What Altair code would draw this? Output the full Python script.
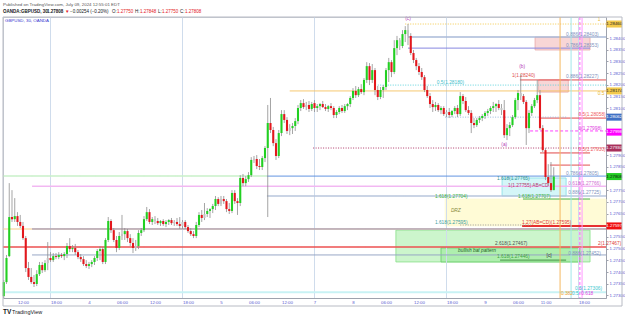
import altair as alt
import pandas as pd

# ---------------- candle data: OANDA:GBPUSD 30m, Jul 3 08:30 -> Jul 9 12:30 (EDT) ----------------
opens = [1.27297, 1.27357, 1.27468, 1.27635, 1.27626, 1.27639, 1.27614, 1.27597, 1.27545, 1.27417,
         1.27379, 1.27357, 1.27349, 1.27391, 1.27430, 1.27408, 1.27438, 1.27460, 1.27451, 1.27468,
         1.27464, 1.27473, 1.27468, 1.27477, 1.27511, 1.27498, 1.27503, 1.27485, 1.27464, 1.27455,
         1.27434, 1.27426, 1.27434, 1.27443, 1.27460, 1.27490, 1.27498, 1.27443, 1.27537, 1.27618,
         1.27579, 1.27537, 1.27503, 1.27554, 1.27562, 1.27575, 1.27545, 1.27524, 1.27503, 1.27511,
         1.27567, 1.27579, 1.27626, 1.27656, 1.27614, 1.27626, 1.27618, 1.27609, 1.27618, 1.27605,
         1.27614, 1.27622, 1.27609, 1.27614, 1.27605, 1.27597, 1.27614, 1.27592, 1.27575, 1.27562,
         1.27554, 1.27601, 1.27644, 1.27631, 1.27648, 1.27661, 1.27669, 1.27682, 1.27712, 1.27691,
         1.27712, 1.27703, 1.27669, 1.27661, 1.27738, 1.27703, 1.27695, 1.27802, 1.27780, 1.27797,
         1.27814, 1.27879, 1.27883, 1.27853, 1.27849, 1.27887, 1.27930, 1.28037, 1.28007, 1.27951,
         1.27896, 1.27994, 1.28075, 1.28050, 1.28003, 1.28015, 1.28024, 1.28045, 1.28101, 1.28122,
         1.28105, 1.28114, 1.28097, 1.28122, 1.28101, 1.28109, 1.28118, 1.28105, 1.28097, 1.28109,
         1.28101, 1.28071, 1.28084, 1.28101, 1.28088, 1.28109, 1.28118, 1.28144, 1.28174, 1.28156,
         1.28182, 1.28169, 1.28221, 1.28280, 1.28221, 1.28263, 1.28178, 1.28148, 1.28178, 1.28191,
         1.28263, 1.28297, 1.28255, 1.28357, 1.28391, 1.28366, 1.28417, 1.28434, 1.28409, 1.28336,
         1.28306, 1.28280, 1.28255, 1.28233, 1.28178, 1.28152, 1.28118, 1.28105, 1.28114, 1.28092,
         1.28101, 1.28075, 1.28084, 1.28071, 1.28088, 1.28101, 1.28075, 1.28152, 1.28131, 1.28092,
         1.28080, 1.28037, 1.28028, 1.28050, 1.28058, 1.28067, 1.28080, 1.28088, 1.28101, 1.28109,
         1.28118, 1.28101, 1.28092, 1.27985, 1.28015, 1.28028, 1.28062, 1.28135, 1.28165, 1.28152,
         1.28127, 1.28015, 1.28080, 1.28109, 1.28135, 1.28156, 1.28015, 1.27921, 1.27806, 1.27780,
         1.27750]
highs = [1.27366, 1.27473, 1.27780, 1.27750, 1.27716, 1.27656, 1.27644, 1.27614, 1.27554, 1.27443,
         1.27417, 1.27387, 1.27408, 1.27443, 1.27443, 1.27451, 1.27528, 1.27485, 1.27481, 1.27481,
         1.27485, 1.27481, 1.27485, 1.27524, 1.27545, 1.27515, 1.27520, 1.27494, 1.27477, 1.27468,
         1.27451, 1.27443, 1.27451, 1.27468, 1.27498, 1.27511, 1.27507, 1.27545, 1.27635, 1.27626,
         1.27588, 1.27554, 1.27571, 1.27644, 1.27588, 1.27584, 1.27562, 1.27545, 1.27537, 1.27579,
         1.27588, 1.27639, 1.27678, 1.27669, 1.27635, 1.27639, 1.27631, 1.27622, 1.27626, 1.27622,
         1.27626, 1.27631, 1.27622, 1.27631, 1.27635, 1.27622, 1.27622, 1.27601, 1.27588, 1.27575,
         1.27614, 1.27656, 1.27665, 1.27695, 1.27673, 1.27673, 1.27691, 1.27725, 1.27720, 1.27725,
         1.27725, 1.27712, 1.27695, 1.27750, 1.27750, 1.27716, 1.27814, 1.27819, 1.27810, 1.27827,
         1.27891, 1.27896, 1.27900, 1.27883, 1.27896, 1.27938, 1.28114, 1.28144, 1.28020, 1.27968,
         1.28007, 1.28092, 1.28092, 1.28062, 1.28032, 1.28037, 1.28058, 1.28114, 1.28135, 1.28139,
         1.28127, 1.28131, 1.28127, 1.28135, 1.28118, 1.28122, 1.28131, 1.28118, 1.28114, 1.28122,
         1.28109, 1.28092, 1.28109, 1.28114, 1.28118, 1.28122, 1.28152, 1.28186, 1.28195, 1.28191,
         1.28203, 1.28229, 1.28297, 1.28293, 1.28289, 1.28272, 1.28195, 1.28191, 1.28199, 1.28272,
         1.28315, 1.28306, 1.28391, 1.28409, 1.28400, 1.28434, 1.28451, 1.28460, 1.28421, 1.28349,
         1.28315, 1.28293, 1.28272, 1.28242, 1.28195, 1.28165, 1.28135, 1.28127, 1.28122, 1.28109,
         1.28109, 1.28092, 1.28101, 1.28092, 1.28109, 1.28114, 1.28169, 1.28161, 1.28148, 1.28109,
         1.28092, 1.28058, 1.28058, 1.28067, 1.28075, 1.28088, 1.28097, 1.28109, 1.28127, 1.28122,
         1.28135, 1.28118, 1.28135, 1.28032, 1.28041, 1.28071, 1.28144, 1.28178, 1.28246, 1.28161,
         1.28135, 1.28092, 1.28118, 1.28144, 1.28221, 1.28178, 1.28028, 1.27930, 1.27861, 1.27870,
         1.27848]
lows = [1.27289, 1.27349, 1.27464, 1.27614, 1.27614, 1.27597, 1.27588, 1.27537, 1.27400, 1.27366,
        1.27349, 1.27336, 1.27340, 1.27383, 1.27396, 1.27400, 1.27408, 1.27443, 1.27443, 1.27455,
        1.27455, 1.27460, 1.27451, 1.27460, 1.27485, 1.27485, 1.27473, 1.27455, 1.27443, 1.27426,
        1.27417, 1.27413, 1.27421, 1.27430, 1.27447, 1.27451, 1.27434, 1.27434, 1.27528, 1.27567,
        1.27528, 1.27485, 1.27494, 1.27537, 1.27537, 1.27528, 1.27511, 1.27481, 1.27490, 1.27498,
        1.27554, 1.27571, 1.27618, 1.27605, 1.27601, 1.27605, 1.27601, 1.27597, 1.27597, 1.27592,
        1.27601, 1.27601, 1.27597, 1.27597, 1.27584, 1.27584, 1.27584, 1.27567, 1.27554, 1.27545,
        1.27545, 1.27592, 1.27614, 1.27622, 1.27635, 1.27631, 1.27652, 1.27665, 1.27682, 1.27682,
        1.27691, 1.27656, 1.27648, 1.27652, 1.27691, 1.27644, 1.27682, 1.27767, 1.27767, 1.27785,
        1.27806, 1.27866, 1.27840, 1.27836, 1.27836, 1.27870, 1.27635, 1.27994, 1.27938, 1.27879,
        1.27887, 1.27981, 1.28037, 1.27990, 1.27985, 1.27990, 1.28003, 1.28032, 1.28088, 1.28097,
        1.28092, 1.28084, 1.28088, 1.28084, 1.28084, 1.28092, 1.28101, 1.28088, 1.28084, 1.28092,
        1.28058, 1.28058, 1.28075, 1.28080, 1.28080, 1.28092, 1.28105, 1.28135, 1.28144, 1.28148,
        1.28161, 1.28156, 1.28208, 1.28199, 1.28208, 1.28156, 1.28135, 1.28139, 1.28144, 1.28178,
        1.28212, 1.28233, 1.28246, 1.28327, 1.28349, 1.28357, 1.28383, 1.28370, 1.28327, 1.28293,
        1.28263, 1.28242, 1.28221, 1.28169, 1.28144, 1.28101, 1.28084, 1.28088, 1.28084, 1.28075,
        1.28067, 1.28062, 1.28058, 1.28062, 1.28075, 1.28062, 1.28067, 1.28118, 1.28084, 1.28071,
        1.27994, 1.28015, 1.28020, 1.28037, 1.28045, 1.28054, 1.28067, 1.28075, 1.28084, 1.28084,
        1.28092, 1.28071, 1.27973, 1.27964, 1.27981, 1.28020, 1.28054, 1.28092, 1.28135, 1.28118,
        1.27943, 1.27994, 1.28067, 1.28101, 1.28122, 1.28007, 1.27913, 1.27793, 1.27767, 1.27742,
        1.27750]
closes = [1.27357, 1.27460, 1.27635, 1.27626, 1.27639, 1.27614, 1.27597, 1.27545, 1.27417, 1.27379,
          1.27357, 1.27349, 1.27391, 1.27430, 1.27408, 1.27438, 1.27460, 1.27451, 1.27468, 1.27464,
          1.27473, 1.27468, 1.27477, 1.27511, 1.27498, 1.27503, 1.27485, 1.27464, 1.27455, 1.27434,
          1.27426, 1.27434, 1.27443, 1.27460, 1.27490, 1.27498, 1.27443, 1.27537, 1.27618, 1.27579,
          1.27537, 1.27503, 1.27554, 1.27562, 1.27575, 1.27545, 1.27524, 1.27503, 1.27511, 1.27567,
          1.27579, 1.27626, 1.27656, 1.27614, 1.27626, 1.27618, 1.27609, 1.27618, 1.27605, 1.27614,
          1.27622, 1.27609, 1.27614, 1.27605, 1.27597, 1.27614, 1.27592, 1.27575, 1.27562, 1.27554,
          1.27601, 1.27644, 1.27631, 1.27648, 1.27661, 1.27669, 1.27682, 1.27712, 1.27691, 1.27712,
          1.27703, 1.27669, 1.27661, 1.27738, 1.27703, 1.27695, 1.27802, 1.27780, 1.27797, 1.27814,
          1.27879, 1.27883, 1.27853, 1.27849, 1.27887, 1.27930, 1.28037, 1.28007, 1.27951, 1.27896,
          1.27994, 1.28075, 1.28050, 1.28003, 1.28015, 1.28024, 1.28045, 1.28101, 1.28122, 1.28105,
          1.28114, 1.28097, 1.28118, 1.28101, 1.28109, 1.28118, 1.28105, 1.28097, 1.28109, 1.28101,
          1.28071, 1.28084, 1.28101, 1.28088, 1.28109, 1.28118, 1.28144, 1.28174, 1.28156, 1.28182,
          1.28169, 1.28221, 1.28280, 1.28221, 1.28263, 1.28178, 1.28148, 1.28178, 1.28191, 1.28263,
          1.28297, 1.28255, 1.28357, 1.28391, 1.28366, 1.28417, 1.28434, 1.28409, 1.28336, 1.28306,
          1.28280, 1.28255, 1.28233, 1.28178, 1.28152, 1.28118, 1.28105, 1.28114, 1.28092, 1.28101,
          1.28075, 1.28084, 1.28071, 1.28088, 1.28101, 1.28075, 1.28152, 1.28131, 1.28092, 1.28080,
          1.28037, 1.28028, 1.28050, 1.28058, 1.28067, 1.28080, 1.28088, 1.28101, 1.28109, 1.28118,
          1.28101, 1.28092, 1.27985, 1.28015, 1.28028, 1.28062, 1.28135, 1.28165, 1.28152, 1.28127,
          1.28015, 1.28080, 1.28109, 1.28135, 1.28156, 1.28015, 1.27921, 1.27806, 1.27780, 1.27750,
          1.27808]
neutral_bars = [16, 43, 48, 55, 62, 65, 73, 79, 91, 104, 110, 144, 147, 161, 181, 188]

# time axis (bar index -> label)
x_tick_index = [7, 19, 31, 43, 55, 67, 79, 91, 103, 113, 127, 139, 151, 163, 175, 187, 197, 211]
x_tick_labels = ["12:00", "18:00", "4", "06:00", "12:00", "18:00", "5", "06:00", "12:00",
                 "7", "8", "06:00", "12:00", "18:00", "9", "06:00", "11:00", "18:00"]
session_breaks = [17, 65, 113, 161, 209]
price_ticks = [1.2730, 1.2735, 1.2740, 1.2745, 1.2750, 1.2755, 1.2760, 1.2765, 1.2770, 1.2775,
               1.2780, 1.2785, 1.2790, 1.2795, 1.2800, 1.2805, 1.2810, 1.2815, 1.2820, 1.2825,
               1.2830, 1.2835, 1.2840]

# ---------------- drawings (bar index / price) ----------------
# (from, to, price, colour, width, style)
h_lines = [
    (146, 219, 1.28460, "#f2c94c", 1, "dot"),
    (147, 219, 1.28404, "#a9bad8", 1.5, "solid"),
    (147, 213.2, 1.28357, "#8585e0", 1, "solid"),
    (187.7, 219, 1.28221, "#e04848", 1, "solid"),
    (136, 219, 1.28199, "#5fd3dc", 1, "dot"),
    (104, 219, 1.28174, "#f5c060", 1, "solid"),
    (160.5, 204.5, 1.28062, "#9ab8dc", 1, "dot"),
    (195, 219, 1.28058, "#e04848", 1, "solid"),
    (191.4, 219, 1.28003, "#ff40ff", 1, "dash"),
    (112.5, 219, 1.27930, "#b03a6a", 1, "dot"),
    (195, 213.2, 1.27909, "#e04848", 1, "solid"),
    (198.6, 213.2, 1.27857, "#e04848", 1, "solid"),
    (-0.3, 95.7, 1.27810, "#c8f0c8", 1.5, "solid"),
    (95.7, 219, 1.27810, "#5b8fe0", 1, "solid"),
    (10.3, 219, 1.27767, "#f2b8f2", 1.5, "solid"),
    (95.7, 219, 1.27725, "#b8c6dc", 1.5, "solid"),
    (188.8, 213.2, 1.27712, "#48b048", 1, "solid"),
    (166, 192, 1.27601, "#9a9a9a", 1, "dot"),
    (188.5, 219, 1.27597, "#e83030", 2, "solid"),
    (-0.3, 219, 1.27584, "#f8dcb0", 1.5, "solid"),
    (10.3, 219, 1.27584, "#8c84b4", 1, "solid"),
    (-0.3, 219, 1.27507, "#ec5050", 1.5, "solid"),
    (10.3, 219, 1.27473, "#94a4c4", 1, "solid"),
    (180.5, 204.5, 1.27451, "#3c8c3c", 1, "solid"),
    (-0.3, 219, 1.27314, "#c8f2f4", 2, "solid"),
]
# (bar, colour, style)
v_lines = [(202.3, "#f5b860", "solid"), (206.3, "#a0e6ea", "solid"),
           (209.5, "#ff66ff", "dash"), (210.3, "#ff99ff", "solid")]
# (from, to, price1, price2, fill, stroke)
boxes = [
    (160.5, 219, 1.27712, 1.27597, "#fffbd6", "#fffbd6"),
    (142.6, 213.2, 1.27579, 1.27443, "#ccf5cc", "#88e088"),
    (159, 209.5, 1.27503, 1.27443, "#aeeeae", "#66cc66"),
    (193.2, 213.2, 1.28404, 1.28349, "#f8d6d6", "#e8a8a8"),
    (194.5, 205.3, 1.28221, 1.28169, "#f8d6d6", "#e8a8a8"),
    (181.2, 204.5, 1.27802, 1.27725, "#d4f6f8", "#80dce4"),
]
# (bar, price, text, colour, align, italic)
labels = [
    (147, 1.28481, "(c)", "#b43cb4", "center", False),
    (188.5, 1.28276, "(b)", "#b43cb4", "center", False),
    (182, 1.27943, "(a)", "#b43cb4", "center", False),
    (184.8, 1.28237, "1(1.28240)", "#e05050", "left", False),
    (157.5, 1.28208, "0.5(1.28180)", "#40c0cc", "left", False),
    (204.5, 1.28413, "0.886(1.28403)", "#7f93c0", "left", False),
    (204.5, 1.28366, "0.786(1.28353)", "#7f93c0", "left", False),
    (204.5, 1.28233, "0.886(1.28227)", "#7f93c0", "left", False),
    (209.0, 1.28071, "0.5(1.28058)", "#f06060", "left", False),
    (209.0, 1.28011, "0(1.27998)", "#e040e0", "left", False),
    (209.0, 1.27921, "0.5(1.27930)", "#f06060", "left", False),
    (204.5, 1.27819, "0.786(1.27805)", "#7f93c0", "left", False),
    (205.3, 1.27776, "0.618(1.27766)", "#d070d0", "left", False),
    (205.3, 1.27738, "0.886(1.27725)", "#7f93c0", "left", False),
    (179.4, 1.27797, "1.618(1.27765)", "#2f9090", "left", False),
    (183.4, 1.27767, "1(1.27755) AB=CD", "#b04070", "left", False),
    (156.8, 1.27720, "1.618(1.27704)", "#3cb43c", "left", False),
    (187.0, 1.27720, "1.618(1.27707)", "#3cb43c", "left", False),
    (162.6, 1.27661, "DRZ", "#8a8a40", "left", True),
    (156.8, 1.27609, "1.618(1.27595)", "#40a0a0", "left", False),
    (188.5, 1.27609, "1.27(AB=CD)(1.27595)", "#e04040", "left", False),
    (178.6, 1.27520, "2.618(1.27467)", "#505050", "left", False),
    (216.1, 1.27520, "2(1.27467)", "#e04040", "left", False),
    (165.2, 1.27490, "bullish bat pattern", "#206020", "left", True),
    (179.4, 1.27464, "1.618(1.27446)", "#40a040", "left", False),
    (198.3, 1.27468, "[c]", "#333333", "center", False),
    (205.3, 1.27477, "0.886(1.27452)", "#7f93c0", "left", False),
    (207.7, 1.27327, "0.5(1.27306)", "#40c8d0", "left", False),
    (202.6, 1.27306, "0.382", "#f0a030", "left", False),
    (206.6, 1.27306, "0.5", "#40c8d0", "left", False),
    (210.0, 1.27306, "0.618", "#e040e0", "left", False),
    (216.0, 1.28477, "1", "#e8b830", "left", False),
    (216.0, 1.28160, "0.5", "#e8b830", "left", False),
]
# price-scale badges (price, text, fill, text colour)
badges = [
    (1.28460, "1.28460", "#f2c94c", "#222222"),
    (1.28174, "1.28174", "#f2c94c", "#222222"),
    (1.28062, "1.28062", "#3f6fc4", "#ffffff"),
    (1.27998, "1.27998", "#ff00ff", "#ffffff"),
    (1.27930, "1.27930", "#a8305c", "#ffffff"),
    (1.27808, "1.27808", "#22cc22", "#111111"),
    (1.27597, "1.27597", "#f01010", "#ffffff"),
]

# ---------------- build ----------------
FONT = "Liberation Sans"
W, H = 603, 281
XS = alt.Scale(domain=[-0.27, 219.0], nice=False, zero=False)
YS = alt.Scale(domain=[1.27289, 1.28490], nice=False, zero=False)

expr = ""
for v, t in zip(x_tick_index, x_tick_labels):
    expr += f"datum.value == {v} ? '{t}' : "
expr += "''"

# tick labels hidden under a badge are left out (as the price scale does)
badge_prices = [b[0] for b in badges]
shown_ticks = [t for t in price_ticks if min(abs(t - b) for b in badge_prices) > 0.00024]

x_axis = alt.Axis(values=x_tick_index, labelExpr=expr, title=None, grid=False, ticks=False,
                  domainColor="#9ea2ad", labelColor="#5a5ad0", labelFontSize=4.4, labelFont=FONT,
                  labelPadding=2, labelOverlap=False, labelFlush=False)
y_axis = alt.Axis(orient="right", values=shown_ticks, format=".5f", title=None, grid=False,
                  ticks=True, tickSize=2, tickColor="#9ea2ad", domainColor="#9ea2ad",
                  labelColor="#5a5ad0", labelFontSize=4.4, labelFont=FONT, labelPadding=1,
                  labelOverlap=False)


def X(f):
    return alt.X(f, scale=XS, axis=x_axis)


def Y(f):
    return alt.Y(f, scale=YS, axis=y_axis)


n = len(closes)
cd = pd.DataFrame({"i": list(range(n)), "o": opens, "h": highs, "l": lows, "c": closes})
cd["kind"] = ["flat" if i in neutral_bars else ("up" if c >= o else "down")
              for i, o, c in zip(cd["i"], cd["o"], cd["c"])]
cd["top"] = cd[["o", "c"]].max(axis=1)
cd["bot"] = cd[["o", "c"]].min(axis=1)
thin = (cd["top"] - cd["bot"]) < 0.00004
cd.loc[thin, "top"] = cd.loc[thin, "top"] + 0.00002
cd.loc[thin, "bot"] = cd.loc[thin, "bot"] - 0.00002
cd["x1"] = cd["i"] - 0.38
cd["x2"] = cd["i"] + 0.38

layers = []

# boxes
bx = pd.DataFrame(boxes, columns=["a", "b", "p1", "p2", "fill", "stroke"])
layers.append(alt.Chart(bx).mark_rect(strokeWidth=0.8).encode(
    x=X("a:Q"), x2="b:Q", y=Y("p1:Q"), y2="p2:Q",
    fill=alt.Fill("fill:N", scale=None), stroke=alt.Stroke("stroke:N", scale=None)))

# session breaks
sb = pd.DataFrame({"i": session_breaks})
layers.append(alt.Chart(sb).mark_rule(color="#cfdcec", strokeWidth=1).encode(x=X("i:Q")))

# horizontal lines
hl = pd.DataFrame(h_lines, columns=["a", "b", "p", "col", "w", "style"])
dash_map = {"solid": [1, 0], "dot": [1, 1.5], "dash": [3, 2]}
for style, dash in dash_map.items():
    sub = hl[hl["style"] == style]
    if len(sub) == 0:
        continue
    layers.append(alt.Chart(sub).mark_rule(strokeDash=dash).encode(
        x=X("a:Q"), x2="b:Q", y=Y("p:Q"),
        color=alt.Color("col:N", scale=None),
        strokeWidth=alt.StrokeWidth("w:Q", scale=None)))

# vertical lines
vl = pd.DataFrame(v_lines, columns=["i", "col", "style"])
for style, dash in dash_map.items():
    sub = vl[vl["style"] == style]
    if len(sub) == 0:
        continue
    layers.append(alt.Chart(sub).mark_rule(strokeDash=dash, strokeWidth=1).encode(
        x=X("i:Q"), color=alt.Color("col:N", scale=None)))

# candles
layers.append(alt.Chart(cd).mark_rule(color="#8e8e8e", strokeWidth=0.8).encode(
    x=X("i:Q"), y=Y("l:Q"), y2="h:Q"))
layers.append(alt.Chart(cd).mark_rect().encode(
    x=X("x1:Q"), x2="x2:Q", y=Y("top:Q"), y2="bot:Q",
    color=alt.Color("kind:N", scale=alt.Scale(domain=["up", "down", "flat"],
                                              range=["#22d022", "#e3171d", "#c4c4c4"]),
                    legend=None)))

# labels
lb = pd.DataFrame(labels, columns=["i", "p", "t", "col", "anchor", "ital"])
for anchor in ["left", "center"]:
    for ital in [False, True]:
        sub = lb[(lb["anchor"] == anchor) & (lb["ital"] == ital)]
        if len(sub) == 0:
            continue
        layers.append(alt.Chart(sub).mark_text(
            align=anchor, baseline="middle", font=FONT, fontSize=4.8,
            fontStyle="italic" if ital else "normal").encode(
            x=X("i:Q"), y=Y("p:Q"), text="t:N", color=alt.Color("col:N", scale=None)))

# price badges on the axis
bd = pd.DataFrame(badges, columns=["p", "t", "fill", "tcol"])
bd["p1"] = bd["p"] + 0.00015
bd["p2"] = bd["p"] - 0.00015
layers.append(alt.Chart(bd).mark_rect().encode(
    x=alt.value(603.5), x2=alt.value(619), y=Y("p1:Q"), y2="p2:Q",
    fill=alt.Fill("fill:N", scale=None)))
layers.append(alt.Chart(bd).mark_text(font=FONT, fontSize=4.4, align="center", baseline="middle").encode(
    x=alt.value(611.3), y=Y("p:Q"), text="t:N", color=alt.Color("tcol:N", scale=None)))


def deco(text, px, py, color, size, weight="normal", align="left"):
    return alt.Chart(pd.DataFrame({"t": [text]})).mark_text(
        text=text, font=FONT, fontSize=size, fontWeight=weight, color=color,
        align=align, baseline="middle").encode(x=alt.value(px), y=alt.value(py))


# outer frame
layers.append(alt.Chart(pd.DataFrame({"t": [0]})).mark_rect(
    fillOpacity=0, stroke="#b8bbc4", strokeWidth=1).encode(
    x=alt.value(0), x2=alt.value(619), y=alt.value(0), y2=alt.value(289)))

# header + in-chart legend
layers.append(deco("Published on TradingView.com, July 09, 2024 12:55:01 EDT", 0, -12, "#555555", 4.4))
hdr = [("OANDA:GBPUSD, 30", 0, "#131722", "bold"),
       ("1.27808", 44, "#131722", "bold"),
       ("\u25bc", 62, "#e3171d", "normal"),
       ("\u22120.00254 (\u22120.20%)", 67, "#131722", "normal"),
       ("O:", 109, "#131722", "normal"), ("1.27750", 114, "#e3171d", "normal"),
       ("H:", 132, "#131722", "normal"), ("1.27848", 137, "#e3171d", "normal"),
       ("L:", 155, "#131722", "normal"), ("1.27750", 159, "#e3171d", "normal"),
       ("C:", 177, "#131722", "normal"), ("1.27808", 182, "#e3171d", "normal")]
for t, px, col, wt in hdr:
    layers.append(deco(t, px, -5, col, 4.5, wt))
layers.append(deco("GBPUSD, 30, OANDA", 2, 4, "#3535d0", 4.4))
layers.append(deco("TV", 0, 295, "#131722", 6.5, "bold"))
layers.append(deco("TradingView", 9, 295, "#131722", 5.5))

chart = alt.layer(*layers).properties(
    width=W, height=H,
    padding={"left": 3, "top": 17, "right": 19, "bottom": 21},
    autosize=alt.AutoSizeParams(type="none"),
    background="#ffffff",
).configure_view(stroke="#c8ccd4", strokeWidth=1)

chart.save("out.html", embed_options={"renderer": "svg", "actions": False})
